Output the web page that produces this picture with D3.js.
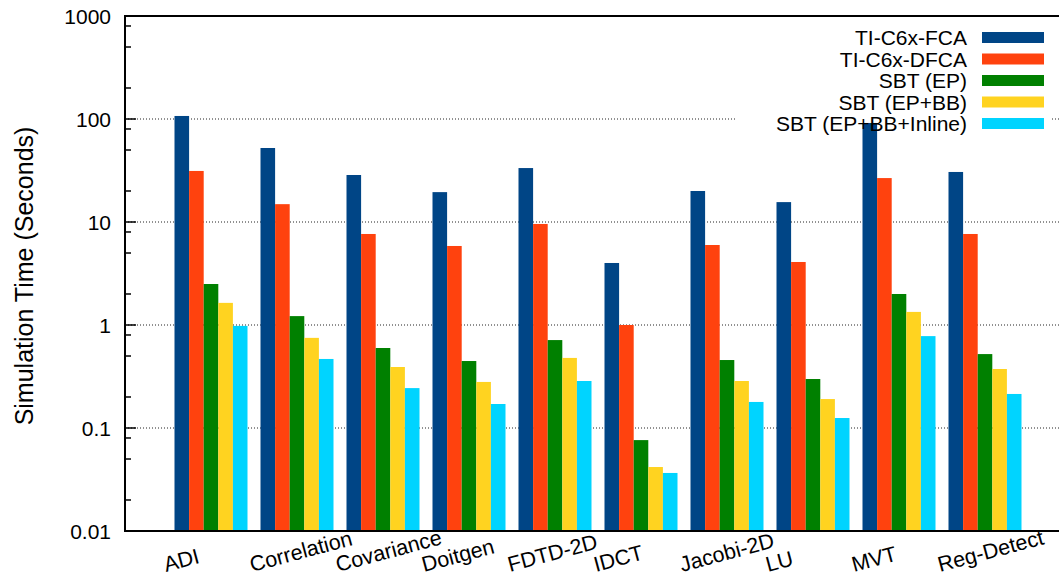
<!DOCTYPE html>
<html>
<head>
<meta charset="utf-8">
<script src="https://cdn.jsdelivr.net/npm/d3@7"></script>
<style>
  body { margin: 0; background: #fff; }
  svg { display: block; font-family: "Liberation Sans", Arial, Helvetica, sans-serif; }
</style>
</head>
<body>
<div id="chart"></div>
<script>
// benchmarks and series
const benchmarks = ["ADI", "Correlation", "Covariance", "Doitgen", "FDTD-2D", "IDCT", "Jacobi-2D", "LU", "MVT", "Reg-Detect"]
const seriesNames = ["TI-C6x-FCA", "TI-C6x-DFCA", "SBT (EP)", "SBT (EP+BB)", "SBT (EP+BB+Inline)"]
const colors = ["#004586", "#ff420e", "#008000", "#ffd320", "#00d4ff"]

// simulation time in seconds, one array per series
const fca       = [107, 52.3, 28.6, 19.5, 33.4, 4.0, 20.0, 15.6, 91.5, 30.6]
const dfca      = [31.3, 14.9, 7.65, 5.85, 9.57, 1.0, 5.98, 4.09, 26.7, 7.65]
const sbtEP     = [2.50, 1.22, 0.598, 0.447, 0.714, 0.0763, 0.457, 0.299, 2.0, 0.522]
const sbtEPBB   = [1.64, 0.75, 0.391, 0.28, 0.479, 0.0418, 0.286, 0.191, 1.34, 0.374]
const sbtInline = [0.98, 0.468, 0.244, 0.171, 0.286, 0.0366, 0.179, 0.125, 0.78, 0.214]
const series = [fca, dfca, sbtEP, sbtEPBB, sbtInline]

const yTicks = [0.01, 0.1, 1, 10, 100, 1000]
const yTickLabels = ["0.01", "0.1", "1", "10", "100", "1000"]

const width = 1059, height = 578
const plotLeft = 125, plotTop = 16, plotBottom = 531
const groupStep = 86

const svg = d3.select("#chart").append("svg")
    .attr("width", width)
    .attr("height", height)

// scales
const x = d3.scaleLinear()
    .domain([-1, 10])
    .range([plotLeft, plotLeft + groupStep * 11])

const inner = d3.scaleBand()
    .domain(seriesNames)
    .range([-36.5, 36.5])

const y = d3.scaleLog()
    .domain([0.01, 1000])
    .range([plotBottom, plotTop])

// grid lines (dotted)
svg.append("g")
    .selectAll("line")
    .data(yTicks.slice(1, -1))
    .join("line")
    .attr("x1", plotLeft)
    .attr("x2", width)
    .attr("y1", d => y(d))
    .attr("y2", d => y(d))
    .attr("stroke", "#222")
    .attr("stroke-width", 1)
    .attr("stroke-dasharray", "1,2")

// the key box hides the grid behind it
svg.append("rect")
    .attr("x", 735)
    .attr("y", 24)
    .attr("width", 317)
    .attr("height", 110)
    .attr("fill", "#fff")

// bars
const groups = svg.append("g")
    .selectAll("g")
    .data(benchmarks)
    .join("g")
    .attr("transform", (d, i) => `translate(${x(i)},0)`)

groups.selectAll("rect")
    .data((d, i) => series.map((s, k) => ({ name: seriesNames[k], value: s[i], color: colors[k] })))
    .join("rect")
    .attr("x", d => inner(d.name))
    .attr("width", inner.bandwidth())
    .attr("y", d => y(d.value))
    .attr("height", d => plotBottom - y(d.value))
    .attr("fill", d => d.color)

// frame: left axis, bottom axis, top border
svg.append("line")
    .attr("x1", plotLeft).attr("x2", plotLeft)
    .attr("y1", plotTop).attr("y2", plotBottom)
    .attr("stroke", "#000").attr("stroke-width", 2)
svg.append("line")
    .attr("x1", plotLeft - 1).attr("x2", width)
    .attr("y1", plotBottom).attr("y2", plotBottom)
    .attr("stroke", "#000").attr("stroke-width", 2)
svg.append("line")
    .attr("x1", plotLeft - 1).attr("x2", width)
    .attr("y1", plotTop).attr("y2", plotTop)
    .attr("stroke", "#000").attr("stroke-width", 2)

// y ticks, inward
svg.append("g")
    .selectAll("line")
    .data(yTicks)
    .join("line")
    .attr("x1", plotLeft)
    .attr("x2", plotLeft + 11)
    .attr("y1", d => y(d))
    .attr("y2", d => y(d))
    .attr("stroke", "#000")
    .attr("stroke-width", 1.5)

const minorTicks = []
yTicks.slice(0, -1).forEach(t => [2, 5, 8].forEach(m => minorTicks.push(t * m)))
svg.append("g")
    .selectAll("line")
    .data(minorTicks)
    .join("line")
    .attr("x1", plotLeft)
    .attr("x2", plotLeft + 6)
    .attr("y1", d => y(d))
    .attr("y2", d => y(d))
    .attr("stroke", "#000")
    .attr("stroke-width", 1.5)

svg.append("g")
    .selectAll("text")
    .data(yTicks)
    .join("text")
    .attr("x", 111)
    .attr("y", d => y(d))
    .attr("dy", "0.36em")
    .attr("text-anchor", "end")
    .attr("font-size", 21)
    .text((d, i) => yTickLabels[i])

// y axis title
svg.append("text")
    .attr("transform", "translate(33,276) rotate(-90)")
    .attr("text-anchor", "middle")
    .attr("font-size", 25)
    .text("Simulation Time (Seconds)")

// x labels, tilted
svg.append("g")
    .selectAll("text")
    .data(benchmarks)
    .join("text")
    .attr("transform", (d, i) => `translate(${x(i) - 45},572) rotate(-15)`)
    .attr("text-anchor", "start")
    .attr("font-size", 21.5)
    .text(d => d)

// legend
const legend = svg.append("g")
    .selectAll("g")
    .data(seriesNames)
    .join("g")
    .attr("transform", (d, i) => `translate(0,${37.5 + i * 21.5})`)

legend.append("text")
    .attr("x", 967)
    .attr("y", 7.5)
    .attr("text-anchor", "end")
    .attr("font-size", 21)
    .text(d => d)

legend.append("rect")
    .attr("x", 982)
    .attr("y", -5.5)
    .attr("width", 62)
    .attr("height", 11)
    .attr("fill", (d, i) => colors[i])
</script>
</body>
</html>
